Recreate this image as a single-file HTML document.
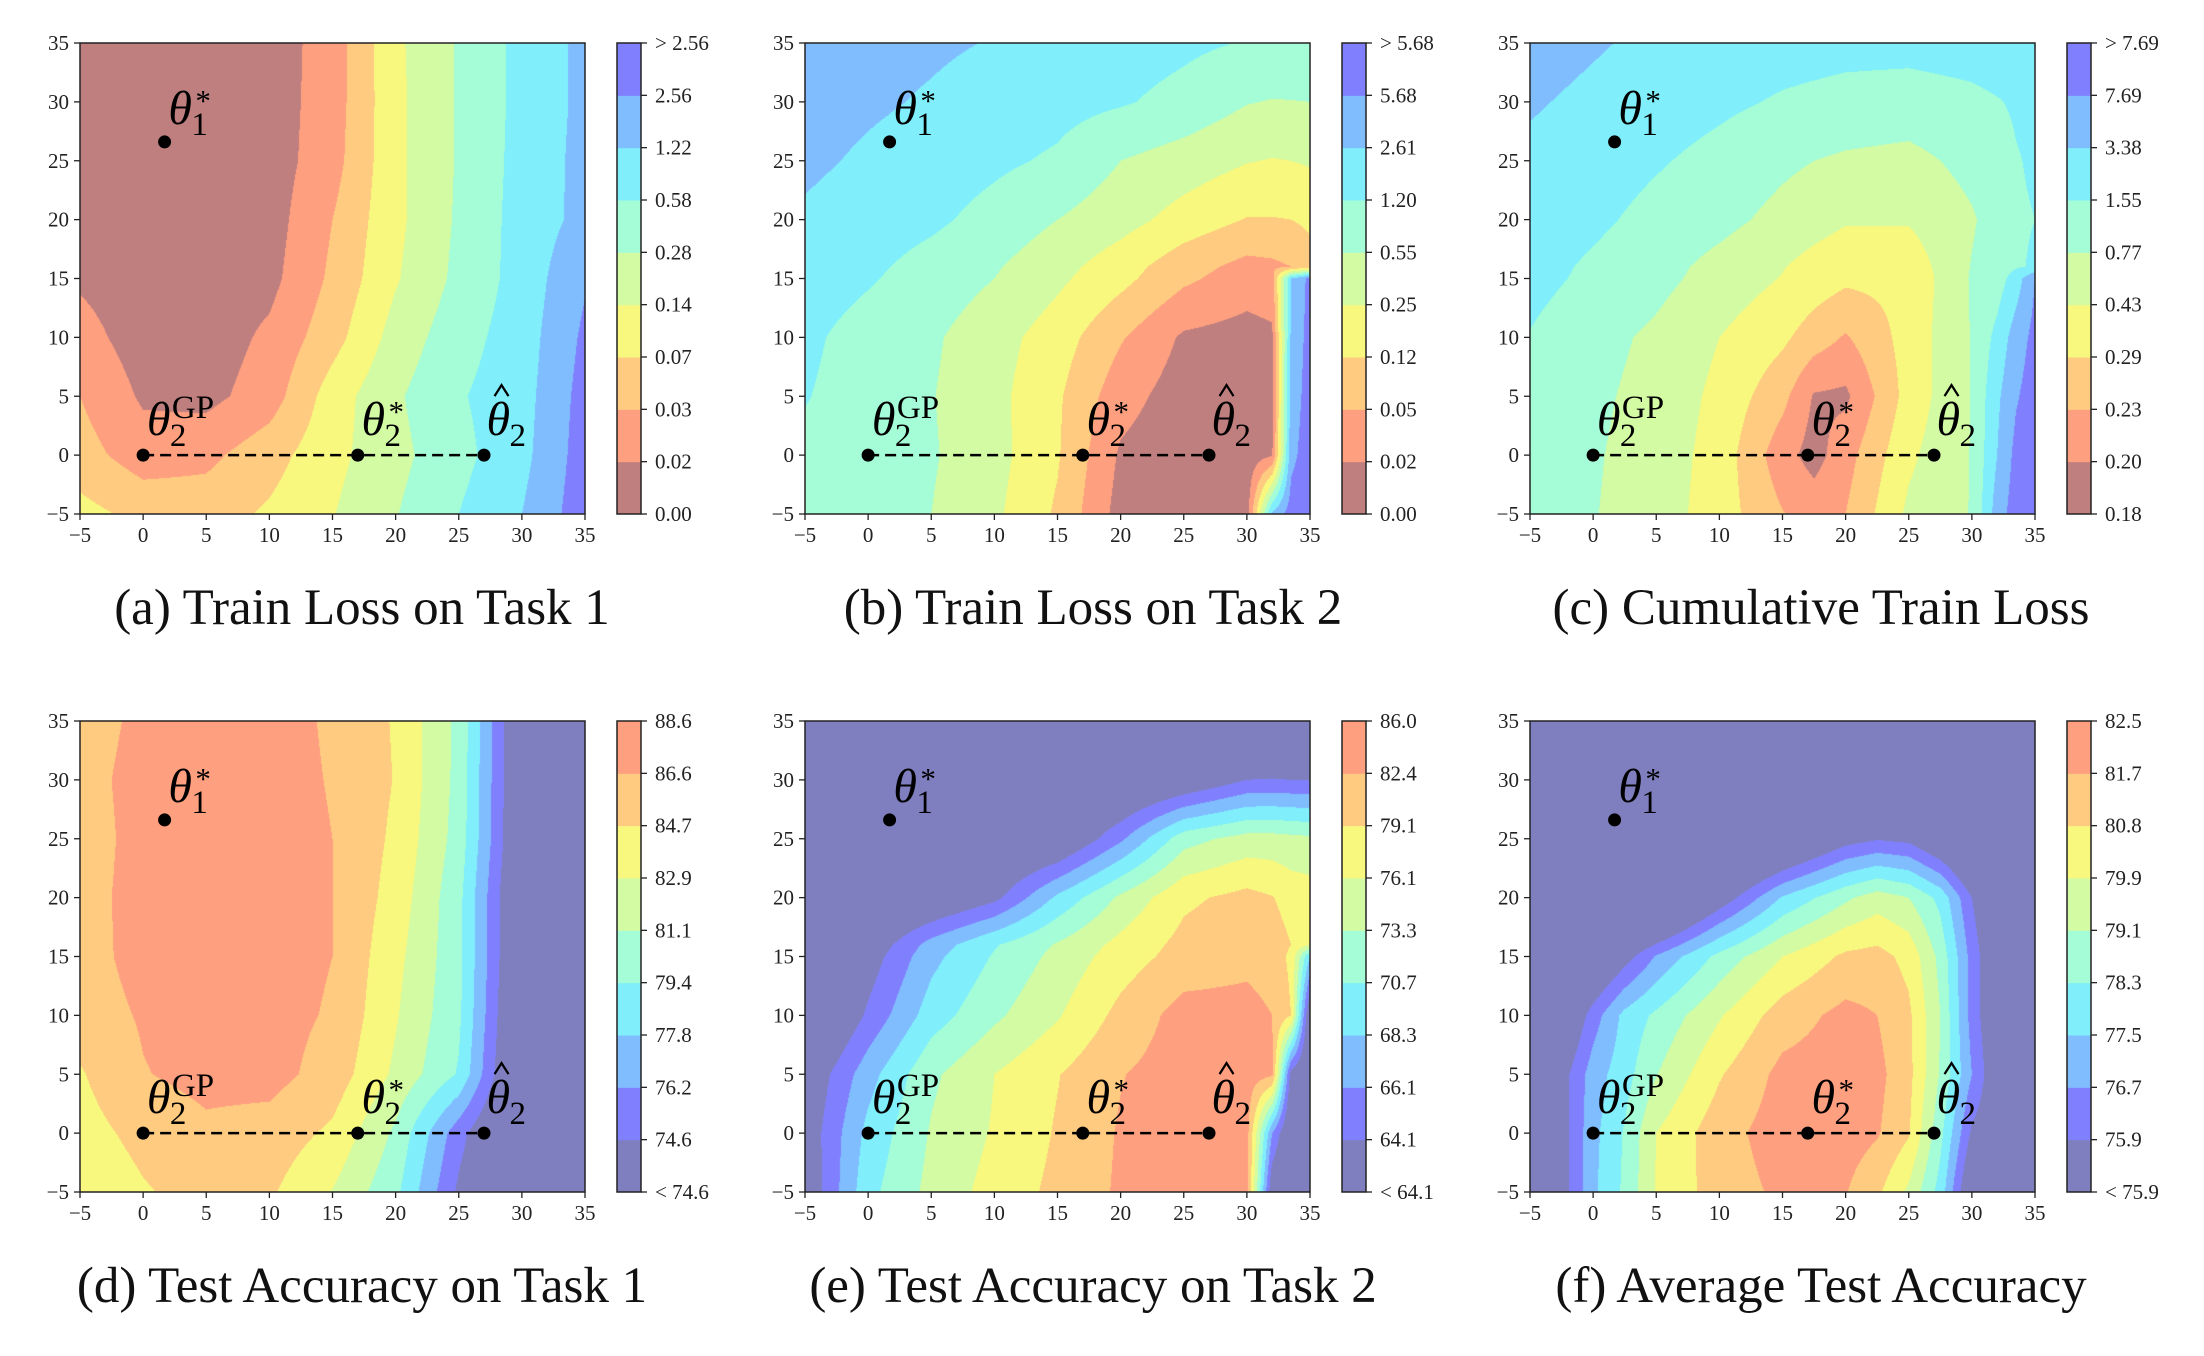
<!DOCTYPE html>
<html><head><meta charset="utf-8">
<style>
html,body{margin:0;padding:0;background:#fff;}
#root{position:relative;width:2204px;height:1356px;overflow:hidden;background:#fff;}
canvas{position:absolute;}
svg{position:absolute;left:0;top:0;}
</style></head>
<body>
<div id="root"></div>
<script>
// ---------- data ----------
const xTickValues = [-5,0,5,10,15,20,25,30,35];
const yTickValues = [-5,0,5,10,15,20,25,30,35];
const stdXs = [-5,0,5,10,15,20,25,30,35];
const stdYs = [35,30,25,20,15,10,5,0,-5];
const stripXs = [-5,0,5,10,15,20,25,30,32,33.5,35];
const stripYs = [35,30,25,20,16,15,10,5,0,-5];
const cXs = [-5,0,5,10,15,17.5,20,25,30,32,33.5,35];
const fXs = [-5,-2,0,2.5,5,10,15,20,22.5,25,27.5,30,35];

const lossColors = ['#c07f7f','#fe9f7f','#fecb80','#f8f87f','#d2fba4','#a4fdd6','#80effb','#80bdff','#8080fe'];
const accColors  = ['#7f7fbf','#8080fe','#80bdff','#80effb','#a4fdd6','#d2fba4','#f8f87f','#fecb80','#fe9f7f'];

const aLevels = ['0.00','0.02','0.03','0.07','0.14','0.28','0.58','1.22','2.56','> 2.56'];
const bLevels = ['0.00','0.02','0.05','0.12','0.25','0.55','1.20','2.61','5.68','> 5.68'];
const cLevels = ['0.18','0.20','0.23','0.29','0.43','0.77','1.55','3.38','7.69','> 7.69'];
const dLevels = ['< 74.6','74.6','76.2','77.8','79.4','81.1','82.9','84.7','86.6','88.6'];
const eLevels = ['< 64.1','64.1','66.1','68.3','70.7','73.3','76.1','79.1','82.4','86.0'];
const fLevels = ['< 75.9','75.9','76.7','77.5','78.3','79.1','79.9','80.8','81.7','82.5'];

const aGrid = [
 [0.2,0.25,0.3,0.5,1.45,3.8,5.1,6.3,7.25],
 [0.2,0.25,0.3,0.5,1.5,3.75,5.1,6.3,7.25],
 [0.2,0.25,0.3,0.5,1.6,3.75,5.1,6.35,7.3],
 [0.2,0.25,0.3,0.55,2.0,3.75,5.15,6.4,7.3],
 [0.85,0.4,0.45,0.7,2.2,3.9,5.25,6.4,7.9],
 [1.4,0.5,0.45,1.2,2.6,4.4,5.6,6.5,8.2],
 [2.0,0.85,0.7,1.5,3.5,4.85,5.9,6.6,8.4],
 [2.4,1.5,1.75,2.6,3.7,4.7,5.7,6.7,8.5],
 [3.35,2.7,2.55,3.15,3.95,4.95,6.0,7.0,8.6]
];
const bGrid = [
 [7.5,7.3,7.15,6.95,6.7,6.45,6.2,5.95,5.9,5.9,5.9],
 [7.4,7.15,6.9,6.6,6.35,6.1,5.7,5.05,4.95,4.97,5.0],
 [7.2,6.85,6.55,6.2,5.85,5.0,4.55,4.05,3.95,4.0,4.1],
 [6.85,6.5,6.2,5.65,5.0,4.4,3.6,2.95,2.95,3.0,3.2],
 [6.55,6.2,5.65,5.1,4.35,3.45,2.4,1.7,1.8,2.0,2.6],
 [6.5,6.1,5.55,5.0,4.2,3.3,2.2,1.5,1.6,7.0,8.3],
 [6.2,5.6,5.15,4.4,3.5,2.1,0.85,0.6,0.8,7.2,8.4],
 [6.05,5.55,5.05,4.3,3.15,1.4,0.5,0.4,0.6,7.4,8.5],
 [5.8,5.4,5.1,4.35,3.1,0.85,0.3,0.4,0.9,7.7,8.6],
 [5.6,5.3,5.0,4.2,2.85,0.6,0.3,0.5,7.2,8.5,8.7]
];
const cGrid = [
 [7.4,7.1,6.8,6.6,6.4,6.35,6.3,6.3,6.4,6.5,6.55,6.6],
 [7.1,6.8,6.5,6.2,5.9,5.8,5.7,5.6,5.8,5.95,6.1,6.2],
 [6.8,6.5,6.1,5.7,5.2,5.0,4.85,4.7,5.3,5.6,5.95,6.1],
 [6.6,6.2,5.7,5.3,4.7,4.4,4.1,4.1,4.9,5.4,5.9,6.0],
 [6.35,5.85,5.35,4.7,4.05,3.65,3.35,3.4,5.05,5.45,5.9,6.1],
 [6.3,5.8,5.3,4.6,3.95,3.55,3.2,3.25,5.1,5.5,6.5,8.0],
 [5.95,5.35,4.8,4.0,3.2,2.5,1.9,3.4,5.05,6.3,7.5,8.3],
 [5.7,5.2,4.65,3.75,2.3,0.9,0.8,3.4,5.05,6.8,7.9,8.5],
 [5.6,5.1,4.55,3.6,1.4,0.6,1.6,3.8,5.05,7.0,8.3,8.6],
 [5.55,5.05,4.5,3.5,2.05,1.6,2.0,4.2,5.05,7.5,8.5,8.7]
];
const dGrid = [
 [7.6,8.2,8.4,8.3,7.9,6.9,4.75,-0.5,-0.5],
 [7.7,8.3,8.4,8.3,7.95,6.95,4.7,-0.5,-0.5],
 [7.6,8.3,8.4,8.35,8.0,6.8,4.6,-0.5,-0.5],
 [7.7,8.3,8.4,8.35,8.0,6.6,4.3,-0.8,-0.8],
 [7.6,8.35,8.4,8.4,8.0,6.3,4.3,-0.8,-0.8],
 [7.5,8.1,8.4,8.35,7.9,6.1,4.2,-1.0,-1.0],
 [6.9,7.95,8.3,8.35,7.6,5.8,3.9,-1.2,-1.2],
 [6.6,7.3,7.8,7.6,6.8,4.8,1.4,-1.5,-1.5],
 [6.2,6.9,7.4,7.15,5.95,4.25,0.8,-1.5,-1.5]
];
const eGrid = [
 [-1,-1,-1,-1,-1,-1,-1,-1,-1,-1,-1],
 [-1,-1,-1,-1,-1,-1,-0.2,1.0,1.05,1.0,0.95],
 [-2,-2,-1.5,-1,-0.5,1.8,4.6,5.4,5.4,5.3,5.2],
 [-2,-1.2,-0.5,0.7,3.2,5.2,6.8,7.3,7.05,6.6,6.5],
 [-2,0.1,2.4,3.9,5.1,6.3,7.3,7.7,7.5,7.0,6.0],
 [-2,0.4,2.7,4.1,5.3,6.5,7.4,7.7,7.5,6.8,3.0],
 [-1.5,1.2,3.5,4.8,5.9,7.3,8.4,8.4,8.0,7.0,-0.5],
 [-0.05,2.6,4.8,6.0,6.95,7.95,8.5,8.5,8.2,0.5,-0.5],
 [0.2,3.3,5.1,6.1,7.1,8.1,8.5,8.4,2.0,-0.5,-0.5],
 [0.0,3.7,5.3,6.4,7.25,8.15,8.5,8.35,0.0,-0.5,-0.5]
];
const fGrid = [
 [-3,-3,-3,-3,-3,-3,-3,-3,-3,-3,-3,-3,-3],
 [-3,-3,-3,-3,-3,-3,-3,-3,-3,-3,-3,-3,-3],
 [-3,-3,-3,-3,-3,-3,-1.5,0.5,0.9,0.7,-0.5,-2,-3],
 [-3,-3,-3,-3,-3,0.2,3.1,4.8,5.5,5.0,3.7,1.0,-3],
 [-3,-2,-1,0.5,2.1,4.3,6.0,7.2,7.35,6.7,4.7,1.6,-3],
 [-2,-0.3,1.5,3.3,4.2,5.9,7.5,8.3,8.0,7.2,5.0,1.6,-3],
 [-1,0.9,2.5,3.6,4.95,6.9,8.3,8.5,8.3,7.3,4.9,2.0,-3],
 [-1,0.9,2.7,4.1,6.0,7.6,8.5,8.5,8.1,7.1,4.3,0.8,-1],
 [-1,0.9,2.8,4.2,6.1,7.5,8.2,8.05,7.2,5.8,3.6,-0.5,-1]
];

const pointTheta1 = [1.7, 26.6];
const pointPath = [[0,0],[17,0],[27,0]];

// ---------- layout ----------
const PW = 505, PH = 471, CBOFF = 537, CBW = 24;
const colX = [80, 805, 1530];
const rowY = [43, 721];
const capCX = [362, 1093, 1821];
const capBase = [624, 1302];
const TICKFS = 21;

const panels = [
 {key:'a', xs:stdXs, ys:stdYs, grid:aGrid, colors:lossColors, levels:aLevels, cap:'(a) Train Loss on Task 1', c:0, r:0},
 {key:'b', xs:stripXs, ys:stripYs, grid:bGrid, colors:lossColors, levels:bLevels, cap:'(b) Train Loss on Task 2', c:1, r:0},
 {key:'c', xs:cXs, ys:stripYs, grid:cGrid, colors:lossColors, levels:cLevels, cap:'(c) Cumulative Train Loss', c:2, r:0},
 {key:'d', xs:stdXs, ys:stdYs, grid:dGrid, colors:accColors, levels:dLevels, cap:'(d) Test Accuracy on Task 1', c:0, r:1},
 {key:'e', xs:stripXs, ys:stripYs, grid:eGrid, colors:accColors, levels:eLevels, cap:'(e) Test Accuracy on Task 2', c:1, r:1},
 {key:'f', xs:fXs, ys:stdYs, grid:fGrid, colors:accColors, levels:fLevels, cap:'(f) Average Test Accuracy', c:2, r:1}
];

const root = document.getElementById('root');
const NS = 'http://www.w3.org/2000/svg';
function hex(c){return [parseInt(c.substr(1,2),16),parseInt(c.substr(3,2),16),parseInt(c.substr(5,2),16)];}
function seg(arr, v, desc){
  for(let i=0;i<arr.length-1;i++){
    const a=arr[i], b=arr[i+1];
    if(desc ? (v<=a && v>=b) : (v>=a && v<=b)) return [i,(v-a)/(b-a)];
  }
  return [arr.length-2, 1];
}
function sv(tag){return document.createElementNS(NS, tag);}

const svg = sv('svg');
svg.setAttribute('width','2204'); svg.setAttribute('height','1356');



panels.forEach(p=>{
  const X0 = colX[p.c], Y0 = rowY[p.r];
  const sx = v => X0 + (v+5)/40*PW;
  const sy = v => Y0 + (35-v)/40*PH;

  const cv = document.createElement('canvas');
  cv.width = PW; cv.height = PH;
  cv.style.left = X0+'px'; cv.style.top = Y0+'px';
  
  
  root.appendChild(cv);
  const ctx = cv.getContext('2d');
  const img = ctx.createImageData(PW, PH);
  const rgb = p.colors.map(hex);
  const colIdx = [];
  for(let px=0;px<PW;px++){ colIdx.push(seg(p.xs, -5+(px+0.5)/PW*40, false)); }
  for(let py=0;py<PH;py++){
    const [j,ty] = seg(p.ys, 35-(py+0.5)/PH*40, true);
    const r0 = p.grid[j], r1 = p.grid[j+1];
    for(let px=0;px<PW;px++){
      const [i,tx] = colIdx[px];
      const v0 = r0[i]*(1-tx)+r0[i+1]*tx;
      const v1 = r1[i]*(1-tx)+r1[i+1]*tx;
      const v = v0*(1-ty)+v1*ty;
      let b = Math.floor(v); if(b<0) b=0; if(b>8) b=8;
      const c = rgb[b], k=(py*PW+px)*4;
      img.data[k]=c[0]; img.data[k+1]=c[1]; img.data[k+2]=c[2]; img.data[k+3]=255;
    }
  }
  ctx.putImageData(img,0,0);

  const g = sv('g');
  
  
  svg.appendChild(g);

  const fr = sv('rect');
  fr.setAttribute('x', X0); fr.setAttribute('y', Y0); fr.setAttribute('width', PW); fr.setAttribute('height', PH);
  fr.setAttribute('fill','none'); fr.setAttribute('stroke','#222'); fr.setAttribute('stroke-width','1.5');
  
  
  g.appendChild(fr);

  xTickValues.forEach(t=>{
    const x = sx(t);
    const ln = sv('line');
    ln.setAttribute('x1',x); ln.setAttribute('x2',x); ln.setAttribute('y1',Y0+PH); ln.setAttribute('y2',Y0+PH+6);
    ln.setAttribute('stroke','#222'); ln.setAttribute('stroke-width','1.3');
    
    
    g.appendChild(ln);
    const tx = sv('text');
    tx.setAttribute('x',x); tx.setAttribute('y',Y0+PH+28); tx.setAttribute('text-anchor','middle');
    tx.setAttribute('font-family','"Liberation Serif", serif'); tx.setAttribute('font-size',TICKFS); tx.setAttribute('fill','#222');
    tx.textContent = t<0 ? '\u2212'+Math.abs(t) : String(t);
    
    
    g.appendChild(tx);
  });
  yTickValues.forEach(t=>{
    const y = sy(t);
    const ln = sv('line');
    ln.setAttribute('x1',X0-6); ln.setAttribute('x2',X0); ln.setAttribute('y1',y); ln.setAttribute('y2',y);
    ln.setAttribute('stroke','#222'); ln.setAttribute('stroke-width','1.3');
    
    
    g.appendChild(ln);
    const tx = sv('text');
    tx.setAttribute('x',X0-11); tx.setAttribute('y',y+7); tx.setAttribute('text-anchor','end');
    tx.setAttribute('font-family','"Liberation Serif", serif'); tx.setAttribute('font-size',TICKFS); tx.setAttribute('fill','#222');
    tx.textContent = t<0 ? '\u2212'+Math.abs(t) : String(t);
    
    
    g.appendChild(tx);
  });

  const CX = X0 + CBOFF;
  for(let i=0;i<9;i++){
    const r = sv('rect');
    r.setAttribute('x',CX); r.setAttribute('y', Y0+PH-(i+1)*PH/9); r.setAttribute('width',CBW); r.setAttribute('height',PH/9+0.5);
    r.setAttribute('fill', p.colors[i]);
    
    
    g.appendChild(r);
  }
  const cf = sv('rect');
  cf.setAttribute('x',CX); cf.setAttribute('y',Y0); cf.setAttribute('width',CBW); cf.setAttribute('height',PH);
  cf.setAttribute('fill','none'); cf.setAttribute('stroke','#222'); cf.setAttribute('stroke-width','1.5');
  
  
  g.appendChild(cf);
  p.levels.forEach((lab,i)=>{
    const y = Y0+PH-i*PH/9;
    const ln = sv('line');
    ln.setAttribute('x1',CX+CBW); ln.setAttribute('x2',CX+CBW+6); ln.setAttribute('y1',y); ln.setAttribute('y2',y);
    ln.setAttribute('stroke','#222'); ln.setAttribute('stroke-width','1.3');
    
    
    g.appendChild(ln);
    const tx = sv('text');
    tx.setAttribute('x',CX+CBW+14); tx.setAttribute('y',y+7);
    tx.setAttribute('font-family','"Liberation Serif", serif'); tx.setAttribute('font-size',TICKFS); tx.setAttribute('fill','#222');
    tx.textContent = lab;
    
    
    g.appendChild(tx);
  });

  const dl = sv('line');
  dl.setAttribute('x1',sx(pointPath[0][0])); dl.setAttribute('y1',sy(pointPath[0][1]));
  dl.setAttribute('x2',sx(pointPath[2][0])); dl.setAttribute('y2',sy(pointPath[2][1]));
  dl.setAttribute('stroke','#000'); dl.setAttribute('stroke-width','2.6'); dl.setAttribute('stroke-dasharray','11 6');
  
  
  g.appendChild(dl);
  [pointTheta1].concat(pointPath).forEach(pt=>{
    const c = sv('circle');
    c.setAttribute('cx',sx(pt[0])); c.setAttribute('cy',sy(pt[1])); c.setAttribute('r','6.5'); c.setAttribute('fill','#000');
    
    
    g.appendChild(c);
  });

  function theta(x, y, name){
    const t = sv('text');
    t.setAttribute('x',x); t.setAttribute('y',y);
    t.setAttribute('font-family','"Liberation Serif", serif'); t.setAttribute('font-size','48'); t.setAttribute('font-style','italic');
    t.textContent = '\u03b8';
    
    
    g.appendChild(t);
  }
  function small(x, y, s, size, name){
    const t = sv('text');
    t.setAttribute('x',x); t.setAttribute('y',y);
    t.setAttribute('font-family','"Liberation Serif", serif'); t.setAttribute('font-size',size);
    t.textContent = s;
    
    
    g.appendChild(t);
  }
  let lx = sx(2.0), ly = sy(28.1);
  theta(lx, ly, 'theta1-star-label');
  small(lx+23, ly+11, '1', 33, 'theta1-subscript');
  small(lx+27, ly-13, '*', 31, 'theta1-star');
  lx = sx(0.3); ly = sy(1.7);
  theta(lx, ly, 'theta2-gp-label');
  small(lx+23, ly+11, '2', 33, 'theta2-gp-subscript');
  small(lx+25, ly-17, 'GP', 33, 'theta2-gp-superscript');
  lx = sx(17.3); ly = sy(1.7);
  theta(lx, ly, 'theta2-star-label');
  small(lx+23, ly+11, '2', 33, 'theta2-star-subscript');
  small(lx+27, ly-13, '*', 31, 'theta2-star');
  lx = sx(27.2); ly = sy(1.7);
  theta(lx, ly, 'theta2-hat-label');
  small(lx+23, ly+11, '2', 33, 'theta2-hat-subscript');
  const hat = sv('polyline');
  hat.setAttribute('points', (lx+8)+','+(ly-39)+' '+(lx+15)+','+(ly-50)+' '+(lx+22)+','+(ly-39));
  hat.setAttribute('fill','none'); hat.setAttribute('stroke','#000'); hat.setAttribute('stroke-width','2.2');
  
  
  g.appendChild(hat);

  const cap = sv('text');
  cap.setAttribute('x', capCX[p.c]); cap.setAttribute('y', capBase[p.r]); cap.setAttribute('text-anchor','middle');
  cap.setAttribute('font-family','"Liberation Serif", serif'); cap.setAttribute('font-size','51'); cap.setAttribute('fill','#111');
  cap.textContent = p.cap;
  
  
  g.appendChild(cap);
});
root.appendChild(svg);
</script>
</body></html>
